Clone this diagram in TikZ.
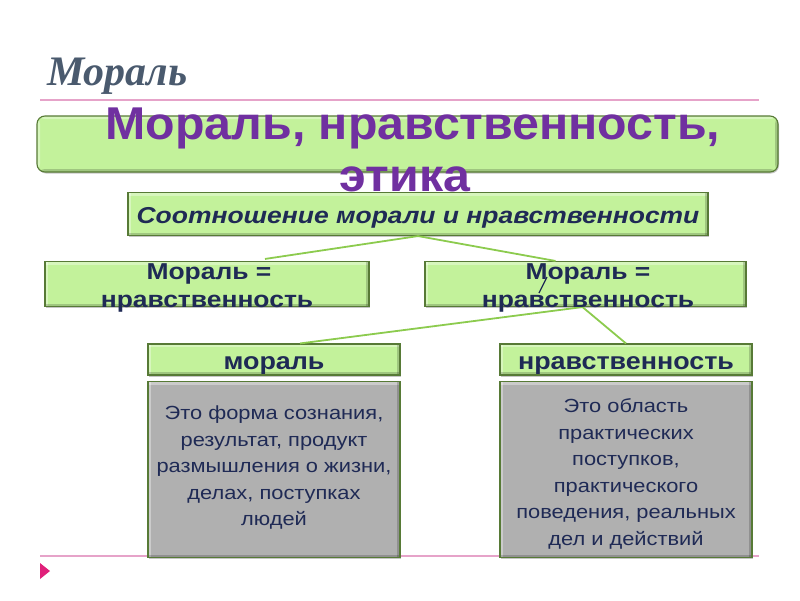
\documentclass[tikz,border=0pt]{standalone}
\usepackage{fontspec}
\setmainfont{Liberation Sans}
\newfontfamily\titleserif{Liberation Serif}
\newfontfamily\wideA[FakeStretch=1.15]{Liberation Sans}
\newfontfamily\wideB[FakeStretch=1.05]{Liberation Sans}
\newfontfamily\wideC[FakeStretch=1.12]{Liberation Sans}
\usetikzlibrary{calc,shadows}
\definecolor{boxgreen}{HTML}{C3F29B}
\definecolor{boxedge}{HTML}{577A36}
\definecolor{grayfill}{HTML}{B0B0B0}
\definecolor{navy}{HTML}{1F2A55}
\definecolor{purp}{HTML}{7030A0}
\definecolor{linegreen}{HTML}{8CCB4E}
\definecolor{pinkline}{HTML}{E6A3C9}
\definecolor{titlegray}{HTML}{4A5A6E}
\definecolor{pinktri}{HTML}{E0207A}
\tikzset{
  bevel/.style={path picture={
    \fill[white, opacity=.35] (path picture bounding box.north west) rectangle ($(path picture bounding box.north east)+(0,3)$);
    \fill[white, opacity=.35] (path picture bounding box.north west) rectangle ($(path picture bounding box.south west)+(3,0)$);
    \fill[black, opacity=.18] (path picture bounding box.south west) rectangle ($(path picture bounding box.south east)+(0,-3)$);
    \fill[black, opacity=.18] (path picture bounding box.north east) rectangle ($(path picture bounding box.south east)+(-3,0)$);
  }},
  gbox/.style={draw=boxedge, line width=1.1pt, fill=boxgreen, inner sep=0pt, bevel,
    drop shadow={shadow xshift=1pt, shadow yshift=-1.5pt, opacity=.45}},
  graybox/.style={draw=boxedge, line width=1.1pt, fill=grayfill, inner sep=0pt, bevel,
    minimum width=252pt, minimum height=176pt,
    drop shadow={shadow xshift=1pt, shadow yshift=-1.5pt, opacity=.45}},
  conn/.style={draw=linegreen, line width=1.8pt},
  lbl/.style={inner sep=0pt, anchor=base, text=navy},
  bodytxt/.style={inner sep=0pt, text=navy, align=center,
    font=\wideA\fontsize{19}{26.5}\selectfont},
}
\begin{document}
\begin{tikzpicture}[x=1pt,y=-1pt]
\useasboundingbox (0,0) rectangle (800,600);
% title
\node[inner sep=0pt, anchor=base west, text=titlegray,
  font=\titleserif\bfseries\itshape\fontsize{42}{42}\selectfont] (title) at (47,85) {Мораль};
\draw[pinkline, line width=1.2pt] (40,100) -- (759,100);
\draw[pinkline, line width=1.2pt] (40,556) -- (759,556);
\fill[pinktri] (40,563) -- (50,571) -- (40,579) -- cycle;
% boxes
\node[gbox, rounded corners=8pt, minimum width=741pt, minimum height=56pt] (top) at (407.5,144) {};
\node[gbox, minimum width=580pt, minimum height=43pt] (rel) at (418,214) {};
\node[gbox, minimum width=324pt, minimum height=45pt] (left) at (207,284) {};
\node[gbox, minimum width=321pt, minimum height=45pt] (right) at (585.5,284) {};
\node[gbox, minimum width=252pt, minimum height=31pt] (mor) at (274,359.5) {};
\node[gbox, minimum width=252pt, minimum height=31pt] (nrav) at (626,359.5) {};
\node[graybox] (g1) at (274,469.5) {};
\node[graybox] (g2) at (626,469.5) {};
% connectors
\coordinate (lend) at ($(left.north)+(58,-2)$);
\coordinate (rend) at ($(right.north)+(-30,0)$);
\coordinate (rstart) at ($(right.south)+(-3,0)$);
\coordinate (mend) at ($(mor.north)+(26,0)$);
\draw[conn] (rel.south) -- (lend);
\draw[conn] (rel.south) -- (rend);
\draw[conn] (rstart) -- (mend);
\draw[conn] (rstart) -- (nrav.north);
\coordinate (s1) at (547,277);
\coordinate (s2) at (539,293);
\draw[navy, line width=1.2pt] (s1) -- (s2);
% texts
\node[inner sep=0pt, anchor=base, text=purp, font=\wideB\bfseries\fontsize{46}{46}\selectfont] (t1) at (413,139) {Мораль, нравственность,};
\node[inner sep=0pt, anchor=base, text=purp, font=\wideB\bfseries\fontsize{46}{46}\selectfont] (t2) at (405,191) {этика};
\node[lbl, font=\wideA\bfseries\itshape\fontsize{23}{23}\selectfont] (t3) at (418,223) {Соотношение морали и нравственности};
\node[lbl, font=\wideA\bfseries\fontsize{23}{23}\selectfont] (t4) at (209,279) {Мораль =};
\node[lbl, font=\wideA\bfseries\fontsize{23}{23}\selectfont] (t5) at (207,307) {нравственность};
\node[lbl, font=\wideA\bfseries\fontsize{23}{23}\selectfont] (t6) at (588,279) {Мораль =};
\node[lbl, font=\wideA\bfseries\fontsize{23}{23}\selectfont] (t7) at (588,307) {нравственность};
\node[lbl, font=\wideC\bfseries\fontsize{24}{24}\selectfont] (t8) at (274,369) {мораль};
\node[lbl, font=\wideC\bfseries\fontsize{24}{24}\selectfont] (t9) at (626,369) {нравственность};
\node[bodytxt] (b1) at (274,467.5) {Это форма сознания,\\результат, продукт\\размышления о жизни,\\делах, поступках\\людей};
\node[bodytxt] (b2) at (626,474) {Это область\\практических\\поступков,\\практического\\поведения, реальных\\дел и действий};
\end{tikzpicture}
\end{document}
